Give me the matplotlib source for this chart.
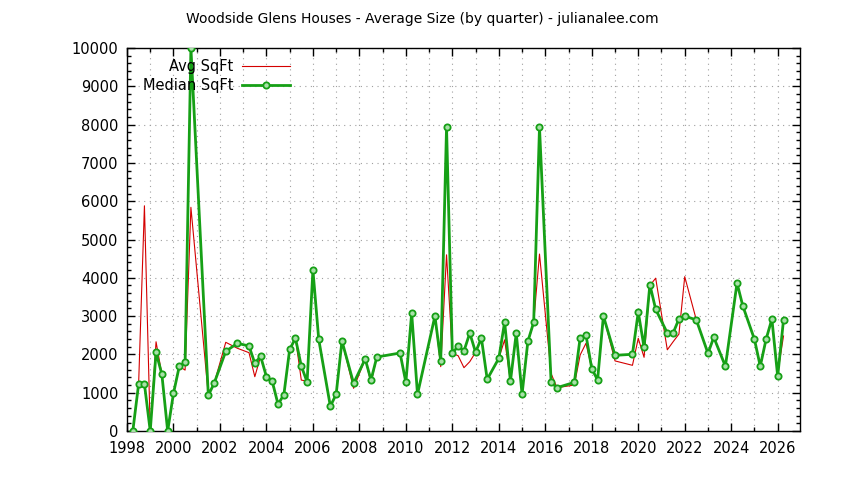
from matplotlib import pyplot as plt
from matplotlib.ticker import MultipleLocator

# quarter end dates (decimal years)
dates = [1998.25, 1998.5, 1998.75, 1999.0, 1999.25, 1999.5, 1999.75, 2000.0,
         2000.25, 2000.5, 2000.75, 2001.5, 2001.75, 2002.25, 2002.75, 2003.25,
         2003.5, 2003.75, 2004.0, 2004.25, 2004.5, 2004.75, 2005.0, 2005.25,
         2005.5, 2005.75, 2006.0, 2006.25, 2006.75, 2007.0, 2007.25, 2007.75,
         2008.25, 2008.5, 2008.75, 2009.75, 2010.0, 2010.25, 2010.5, 2011.25,
         2011.5, 2011.75, 2012.0, 2012.25, 2012.5, 2012.75, 2013.0, 2013.25,
         2013.5, 2014.0, 2014.25, 2014.5, 2014.75, 2015.0, 2015.25, 2015.5,
         2015.75, 2016.25, 2016.5, 2017.25, 2017.5, 2017.75, 2018.0, 2018.25,
         2018.5, 2019.0, 2019.75, 2020.0, 2020.25, 2020.5, 2020.75, 2021.25,
         2021.5, 2021.75, 2022.0, 2022.5, 2023.0, 2023.25, 2023.75, 2024.25,
         2024.5, 2025.0, 2025.25, 2025.5, 2025.75, 2026.0, 2026.25]

median_sqft = [0, 1227, 1227, 0, 2055, 1480, 0, 984,
               1690, 1794, 10000, 932, 1245, 2081, 2290, 2219,
               1768, 1950, 1418, 1297, 697, 948, 2133, 2420,
               1697, 1279, 4204, 2394, 645, 958, 2350, 1245,
               1880, 1332, 1932, 2036, 1270, 3080, 958, 3000,
               1827, 7930, 2028, 2219, 2088, 2558, 2055, 2428,
               1350, 1898, 2846, 1297, 2558, 958, 2342, 2838,
               7930, 1270, 1131, 1270, 2437, 2506, 1627, 1332,
               3003, 1976, 2003, 3107, 2185, 3820, 3177, 2558,
               2558, 2924, 3003, 2898, 2028, 2446, 1690, 3864,
               3264, 2394, 1690, 2394, 2924, 1428, 2898]

avg_sqft = [0, 1227, 5880, 0, 2330, 1480, 0, 984,
            1690, 1590, 5840, 932, 1245, 2316, 2160, 2045,
            1418, 1950, 1418, 1250, 697, 948, 2133, 2420,
            1330, 1300, 4204, 2394, 645, 958, 2350, 1115,
            1880, 1250, 1932, 2036, 1270, 3080, 958, 3000,
            1680, 4600, 2028, 1965, 1653, 1810, 2055, 2428,
            1350, 1898, 2380, 1297, 2558, 958, 2300, 2838,
            4620, 1500, 1131, 1200, 1985, 2290, 1627, 1332,
            3003, 1830, 1715, 2420, 1924, 3800, 3990, 2120,
            2330, 2530, 4030, 2898, 2028, 2446, 1690, 3864,
            3264, 2394, 1690, 2394, 2924, 1500, 2480]

fig = plt.figure(figsize=(8.44, 4.8), dpi=100)
ax = fig.add_axes([127/844, 1-431/480, (800-127)/844, (431-48)/480])

ax.plot(dates, avg_sqft, color='#d40000', lw=0.8, label='Avg SqFt', zorder=3)
ax.plot(dates, median_sqft, color='#16a016', lw=2.0, marker='o', ms=4.5,
        mfc='#a8e0a8', mec='#16a016', mew=1.3, label='Median SqFt', zorder=4)

ax.set_xlim(1998, 2026.96)
ax.set_ylim(0, 10000)
ax.xaxis.set_major_locator(MultipleLocator(2))
ax.xaxis.set_minor_locator(MultipleLocator(1))
ax.yaxis.set_major_locator(MultipleLocator(1000))
ax.yaxis.set_minor_locator(MultipleLocator(200))

ax.tick_params(which='both', direction='in', top=True, right=True, labelsize=10.5)
ax.tick_params(which='major', length=6, width=1)
ax.tick_params(which='minor', length=3, width=1)
ax.tick_params(axis='x', pad=7)
ax.tick_params(axis='y', pad=6)

ax.grid(True, which='major', color='#a0a0a0', ls=(0, (1, 4)), lw=0.8)
ax.grid(True, which='minor', axis='x', color='#a0a0a0', ls=(0, (1, 4)), lw=0.8)
ax.set_axisbelow(True)

for s in ax.spines.values():
    s.set_linewidth(1)

ax.legend(loc='upper left', bbox_to_anchor=(0.008, 0.997), frameon=False,
          markerfirst=False, handlelength=3.3, fontsize=10.5,
          labelspacing=0.25, borderaxespad=0.3, handletextpad=0.6)

fig.text(0.5, 1-19/480, 'Woodside Glens Houses - Average Size (by quarter) - julianalee.com',
         ha='center', va='center', fontsize=10)

fig.savefig('out.png', dpi=100)
